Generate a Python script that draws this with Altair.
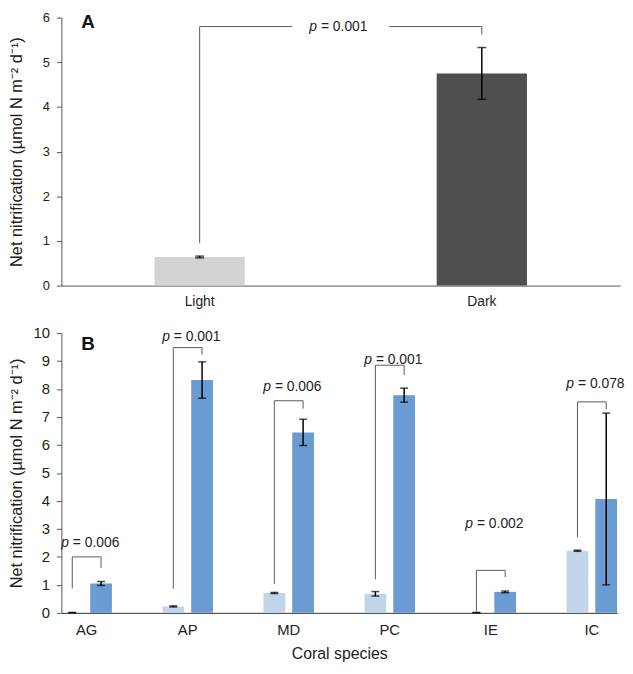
import altair as alt
import pandas as pd

FONT = "Liberation Sans"
Y_TITLE = "Net nitrification (µmol N m⁻² d⁻¹)"

# ---------------- Panel A data ----------------
conditions = ["Light", "Dark"]
a_mean = [0.64, 4.75]
a_se = [0.02, 0.58]
a_colors = ["#d3d3d3", "#4f4f4f"]

a_bracket_cond = ["Light", "Light", "Dark", "Dark"]
a_bracket_y = [0.95, 5.8, 5.8, 5.62]
a_p_value = "0.001"
a_p_y = 5.8

# ---------------- Panel B data ----------------
species = ["AG", "AP", "MD", "PC", "IE", "IC"]
b_light_mean = [0.01, 0.23, 0.71, 0.68, 0.01, 2.22]
b_light_se = [0.005, 0.02, 0.02, 0.08, 0.005, 0.02]
b_dark_mean = [1.05, 8.32, 6.45, 7.78, 0.75, 4.07]
b_dark_se = [0.07, 0.65, 0.47, 0.25, 0.03, 3.07]
b_p_values = ["0.006", "0.001", "0.006", "0.001", "0.002", "0.078"]
b_left_base = [0.87, 0.86, 1.03, 1.2, 0.05, 2.7]
b_top = [2.0, 9.48, 7.58, 8.85, 1.52, 7.54]
b_right_base = [1.6, 9.23, 7.3, 8.49, 1.28, 7.28]
b_p_y = [2.5, 9.87, 8.07, 9.02, 3.17, 8.17]
b_colors = ["#c0d5ea", "#6a9bd3"]

# ---------------- tables ----------------
df_a = pd.DataFrame({"cond": conditions, "mean": a_mean, "se": a_se})
df_a_br = pd.DataFrame({"cond": a_bracket_cond, "y": a_bracket_y,
                        "ord": list(range(len(a_bracket_y)))})
df_a_p = pd.DataFrame({"pos": [0.5], "y": [a_p_y], "p": ["p"],
                       "rest": ["= " + a_p_value]})

rows = []
for i, s in enumerate(species):
    rows.append({"species": s, "cond": "Light", "mean": b_light_mean[i], "se": b_light_se[i]})
    rows.append({"species": s, "cond": "Dark", "mean": b_dark_mean[i], "se": b_dark_se[i]})
df_b = pd.DataFrame(rows)

br_rows = []
for i, s in enumerate(species):
    pts = [("Light", b_left_base[i]), ("Light", b_top[i]), ("Dark", b_top[i]), ("Dark", b_right_base[i])]
    for k, (c, yv) in enumerate(pts):
        br_rows.append({"species": s, "cond": c, "y": yv, "ord": k})
df_b_br = pd.DataFrame(br_rows)
df_b_p = pd.DataFrame({"species": species, "y": b_p_y, "p": ["p"] * len(species),
                       "rest": ["= " + v for v in b_p_values]})

# ---------------- Panel A ----------------
xA_scale = alt.Scale(domain=conditions, paddingInner=0.68, paddingOuter=0.33)
xA_axis = alt.Axis(title=None, labelAngle=0, ticks=False, labelFontSize=14,
                   labelPadding=9, domainColor="#555", labelColor="#222")
yA_scale = alt.Scale(domain=[0, 6], nice=False)
yA_axis = alt.Axis(title=Y_TITLE, values=list(range(7)), labelFontSize=13,
                   titleFontSize=16.5, titleX=-37, tickSize=5, labelPadding=7,
                   domainColor="#555", tickColor="#555", labelColor="#222",
                   titleColor="#222", grid=False)

def xa(field="cond:N"):
    return alt.X(field, scale=xA_scale, axis=xA_axis, sort=conditions)

def ya(field):
    return alt.Y(field, scale=yA_scale, axis=yA_axis)

bars_a = alt.Chart(df_a).mark_bar().encode(
    x=xa(), y=ya("mean:Q"),
    color=alt.Color("cond:N", scale=alt.Scale(domain=conditions, range=a_colors), legend=None),
)
err_a = alt.Chart(df_a).transform_calculate(
    lo="datum.mean - datum.se", hi="datum.mean + datum.se"
).mark_rule(color="black", strokeWidth=1.5).encode(x=xa(), y=ya("lo:Q"), y2="hi:Q")
caps_a = alt.Chart(df_a).transform_calculate(
    lo="datum.mean - datum.se", hi="datum.mean + datum.se"
).transform_fold(["lo", "hi"]).mark_tick(color="black", thickness=1.5, size=9).encode(
    x=xa(), y=ya("value:Q"))
br_a = alt.Chart(df_a_br).mark_line(color="#5a5a5a", strokeWidth=1).encode(
    x=xa(), y=ya("y:Q"), order="ord:Q")

xpos = alt.X("pos:Q", scale=alt.Scale(domain=[0, 1]), axis=None)
# white box that breaks the bracket line behind the p-value label
mask_a = alt.Chart(df_a_p).mark_point(
    shape="M-1,-0.2L1,-0.2L1,0.2L-1,0.2Z", size=9604, filled=True,
    color="white", opacity=1, strokeWidth=0).encode(x=xpos, y=ya("y:Q"))
p_a = alt.Chart(df_a_p).mark_text(fontSize=14, font=FONT, fontStyle="italic", align="right",
                                  dx=-24, color="#222").encode(x=xpos, y=ya("y:Q"), text="p:N")
rest_a = alt.Chart(df_a_p).mark_text(fontSize=14, font=FONT, align="left", dx=-20,
                                     color="#222").encode(x=xpos, y=ya("y:Q"), text="rest:N")
letter_a = alt.Chart(pd.DataFrame({"t": ["A"]})).mark_text(
    fontSize=19, fontWeight="bold", font=FONT, color="#111").encode(
    text="t:N", x=alt.value(27), y=alt.value(4))

panel_a = alt.layer(
    alt.layer(bars_a, err_a, caps_a, br_a, letter_a),
    alt.layer(mask_a, p_a, rest_a),
).resolve_scale(x="independent").properties(width=565, height=271)

# ---------------- Panel B ----------------
xB_scale = alt.Scale(domain=species, paddingInner=0.5, paddingOuter=0)
xB_axis = alt.Axis(title="Coral species", labelAngle=0, ticks=False, labelFontSize=15,
                   labelPadding=10, titleFontSize=16, titlePadding=8,
                   domainColor="#333", labelColor="#222", titleColor="#222")
off_scale = alt.Scale(domain=conditions, paddingInner=0.244, paddingOuter=0)
yB_scale = alt.Scale(domain=[0, 10], nice=False)
yB_axis = alt.Axis(title=Y_TITLE, values=list(range(11)), labelFontSize=15,
                   titleFontSize=16.5, titleX=-37, tickSize=5, labelPadding=7,
                   domainColor="#555", tickColor="#555", labelColor="#222",
                   titleColor="#222", grid=False)

def xb():
    return alt.X("species:N", scale=xB_scale, axis=xB_axis, sort=species)

def offb():
    return alt.XOffset("cond:N", scale=off_scale, sort=conditions)

def yb(field):
    return alt.Y(field, scale=yB_scale, axis=yB_axis)

bars_b = alt.Chart(df_b).mark_bar().encode(
    x=xb(), xOffset=offb(), y=yb("mean:Q"),
    color=alt.Color("cond:N", scale=alt.Scale(domain=conditions, range=b_colors), legend=None),
)
err_b = alt.Chart(df_b).transform_calculate(
    lo="datum.mean - datum.se", hi="datum.mean + datum.se"
).mark_rule(color="black", strokeWidth=1.5).encode(
    x=xb(), xOffset=offb(), y=yb("lo:Q"), y2="hi:Q")
caps_b = alt.Chart(df_b).transform_calculate(
    lo="datum.mean - datum.se", hi="datum.mean + datum.se"
).transform_fold(["lo", "hi"]).mark_tick(color="black", thickness=1.5, size=8).encode(
    x=xb(), xOffset=offb(), y=yb("value:Q"))
br_b = alt.Chart(df_b_br).mark_line(color="#5a5a5a", strokeWidth=1).encode(
    x=xb(), xOffset=offb(), y=yb("y:Q"), detail="species:N", order="ord:Q")
p_b = alt.Chart(df_b_p).mark_text(fontSize=14, font=FONT, fontStyle="italic", align="right",
                                  dx=-18, color="#222").encode(x=xb(), y=yb("y:Q"), text="p:N")
rest_b = alt.Chart(df_b_p).mark_text(fontSize=14, font=FONT, align="left", dx=-14,
                                     color="#222").encode(x=xb(), y=yb("y:Q"), text="rest:N")
letter_b = alt.Chart(pd.DataFrame({"t": ["B"]})).mark_text(
    fontSize=19, fontWeight="bold", font=FONT, color="#111").encode(
    text="t:N", x=alt.value(27), y=alt.value(11))

panel_b = alt.layer(bars_b, err_b, caps_b, br_b, p_b, rest_b, letter_b).properties(
    width=562, height=283)

chart = alt.vconcat(panel_a, panel_b, spacing=18).resolve_scale(
    color="independent"
).properties(
    padding={"left": 0, "top": 0, "right": 0, "bottom": 0}
).configure(font=FONT).configure_view(stroke=None).configure_axis(
    titleFontWeight="normal", labelFont=FONT, titleFont=FONT)

chart.save("out.html", embed_options={"renderer": "svg", "actions": False})
